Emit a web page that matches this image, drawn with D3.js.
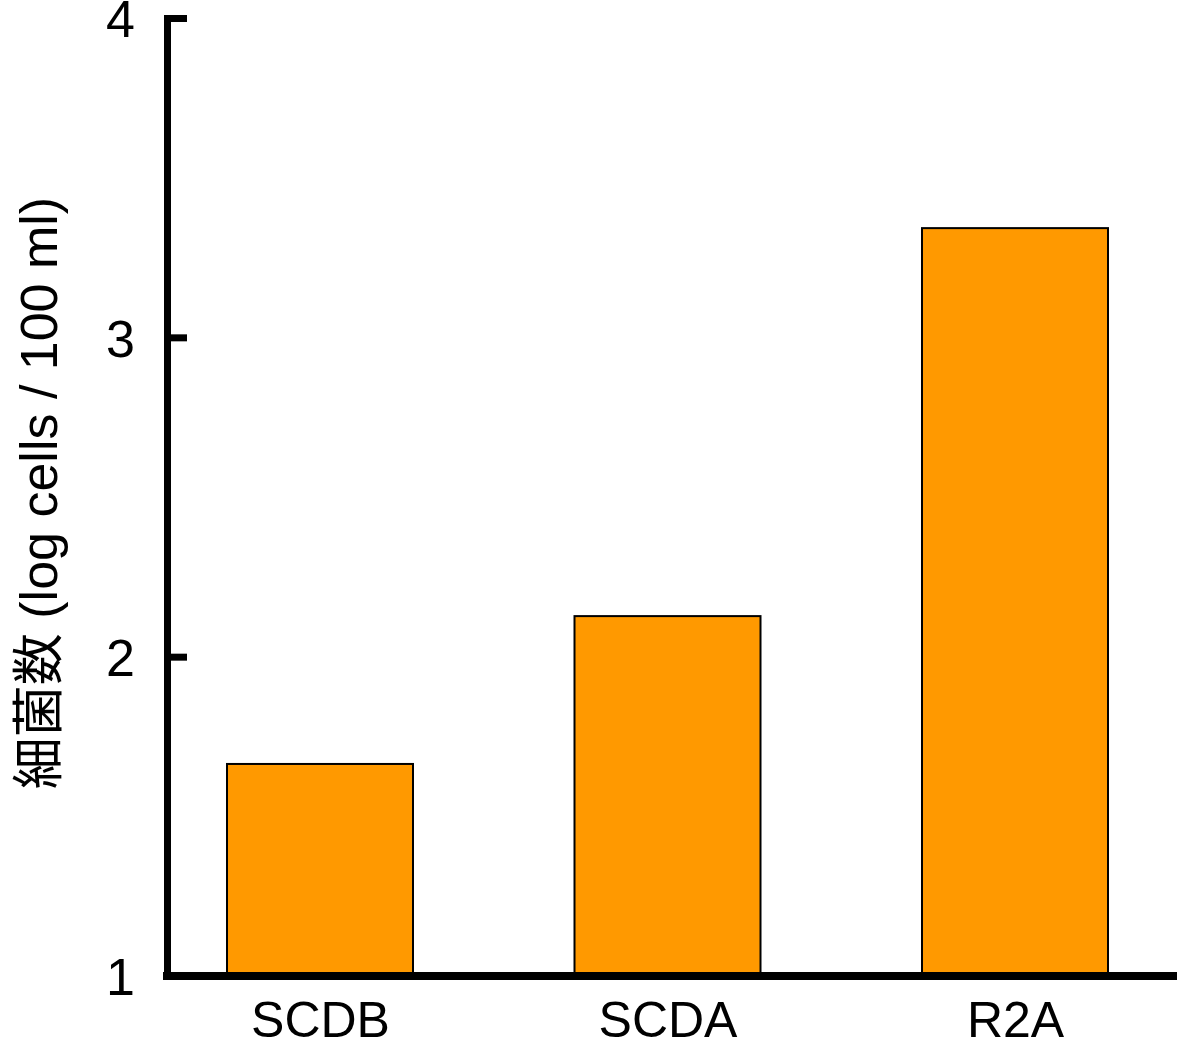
<!DOCTYPE html>
<html>
<head>
<meta charset="utf-8">
<script src="https://cdn.jsdelivr.net/npm/d3@7"></script>
<style>
  html, body { margin: 0; padding: 0; background: #fff; }
  svg { display: block; }
  text { font-family: "Liberation Sans", Arial, "Noto Sans CJK JP", sans-serif; fill: #000; }
</style>
</head>
<body>
<svg id="chart" width="1177" height="1048"></svg>
<script>
const categories = ["SCDB", "SCDA", "R2A"];
const values = [1.664, 2.127, 3.342];
const yTicks = [1, 2, 3, 4];
const yLabel = "細菌数 (log cells / 100 ml)";

const svg = d3.select("#chart");
const axisX = 167, baseY = 976, topY = 18;

const y = d3.scaleLinear().domain([1, 4]).range([baseY, topY]);
const x = d3.scalePoint().domain(categories).range([320, 1015]);
const barW = 186;

// bars
svg.append("g").selectAll("rect")
  .data(categories.map((c, i) => ({ c, v: values[i] })))
  .join("rect")
  .attr("x", d => x(d.c) - barW / 2)
  .attr("y", d => y(d.v))
  .attr("width", barW)
  .attr("height", d => baseY - y(d.v))
  .attr("fill", "#FF9900")
  .attr("stroke", "#000")
  .attr("stroke-width", 2);

// y axis
const yAxis = d3.axisLeft(y).tickValues(yTicks).tickFormat(d3.format("d"))
  .tickSizeInner(-20).tickSizeOuter(0).tickPadding(32);
const gy = svg.append("g").attr("transform", `translate(${axisX},0)`).call(yAxis);
gy.select(".domain").attr("stroke", "#000").attr("stroke-width", 7).attr("stroke-linecap", "square");
gy.selectAll(".tick line").attr("stroke", "#000").attr("stroke-width", 7);
gy.selectAll(".tick text")
  .style("font-family", '"Liberation Sans", Arial, sans-serif')
  .style("font-size", "52px").attr("fill", "#000").attr("dy", "0.36em");

// x axis
const xAxis = d3.axisBottom(x).tickSize(0).tickPadding(0);
const gx = svg.append("g").attr("transform", `translate(0,${baseY})`).call(xAxis);
gx.select(".domain").remove();
gx.append("line").attr("x1", axisX - 4).attr("x2", 1177).attr("y1", 0).attr("y2", 0)
  .attr("stroke", "#000").attr("stroke-width", 8);
gx.selectAll(".tick text")
  .style("font-family", '"Liberation Sans", Arial, sans-serif')
  .style("font-size", "50px").attr("fill", "#000")
  .attr("y", 61).attr("dy", 0);

// y label
svg.append("text")
  .attr("transform", `translate(57,493) rotate(-90)`)
  .attr("text-anchor", "middle")
  .style("font-size", "52px")
  .text(yLabel);
</script>
</body>
</html>
